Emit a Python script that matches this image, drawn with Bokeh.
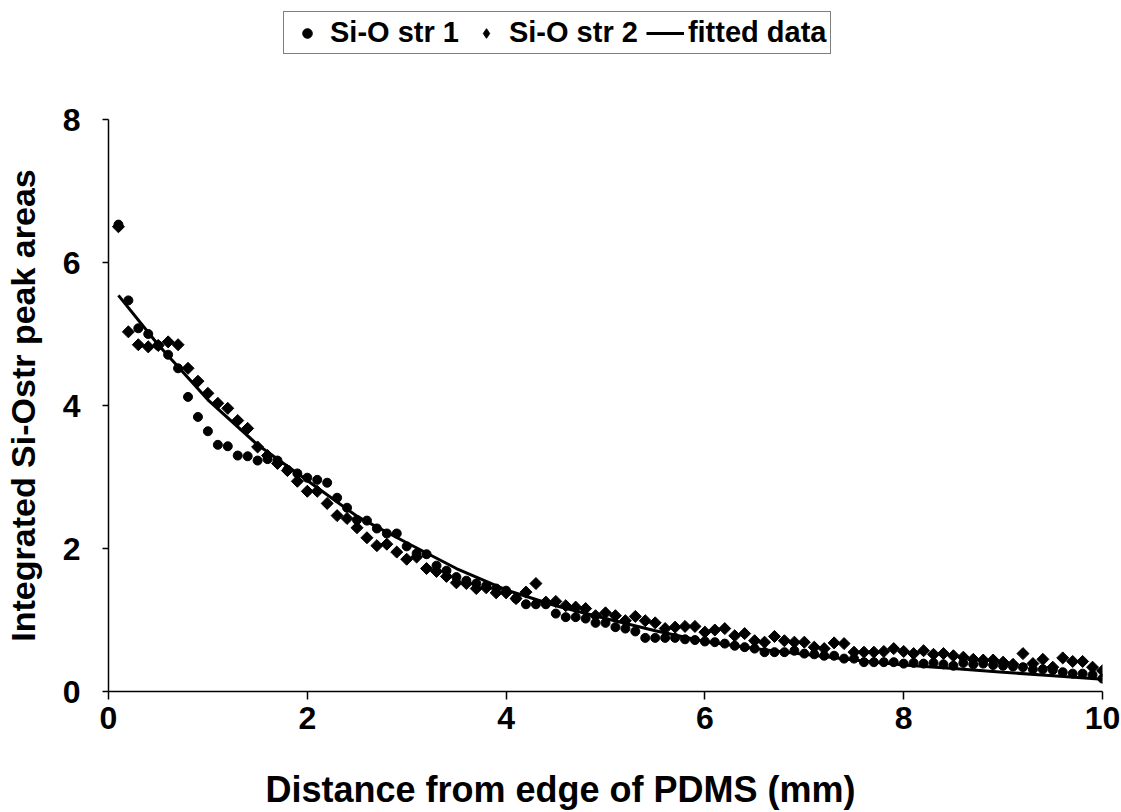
import numpy as np
from bokeh.plotting import figure
from bokeh.layouts import column
from bokeh.models import Legend, LegendItem, Range1d, FixedTicker, Label
from bokeh.embed import file_html
from bokeh.resources import INLINE

# distances (mm)
x_pts = [round(0.1 * i, 1) for i in range(1, 101)]

si_o_str1 = [6.53, 5.47, 5.08, 5.00, 4.84, 4.71, 4.52, 4.12, 3.84, 3.64,
             3.45, 3.43, 3.30, 3.29, 3.23, 3.25, 3.23, 3.10, 3.05, 2.99,
             2.96, 2.92, 2.71, 2.57, 2.40, 2.39, 2.28, 2.21, 2.21, 2.03,
             1.93, 1.92, 1.76, 1.69, 1.60, 1.55, 1.51, 1.48, 1.44, 1.41,
             1.30, 1.22, 1.22, 1.22, 1.09, 1.04, 1.04, 1.02, 0.96, 0.96,
             0.90, 0.88, 0.84, 0.75, 0.75, 0.75, 0.75, 0.73, 0.72, 0.70,
             0.69, 0.67, 0.64, 0.62, 0.60, 0.55, 0.55, 0.55, 0.57, 0.53,
             0.52, 0.50, 0.50, 0.46, 0.46, 0.41, 0.41, 0.41, 0.41, 0.39,
             0.40, 0.39, 0.40, 0.38, 0.36, 0.40, 0.38, 0.39, 0.37, 0.36,
             0.35, 0.34, 0.31, 0.31, 0.30, 0.27, 0.25, 0.25, 0.23, 0.18]

si_o_str2 = [6.50, 5.03, 4.85, 4.82, 4.84, 4.89, 4.85, 4.52, 4.34, 4.17,
             4.03, 3.96, 3.79, 3.68, 3.42, 3.30, 3.19, 3.09, 2.94, 2.80,
             2.80, 2.63, 2.46, 2.42, 2.29, 2.15, 2.04, 2.06, 1.95, 1.85,
             1.88, 1.72, 1.68, 1.61, 1.52, 1.51, 1.44, 1.45, 1.38, 1.38,
             1.30, 1.39, 1.51, 1.25, 1.26, 1.20, 1.18, 1.16, 1.06, 1.10,
             1.06, 0.99, 1.05, 0.99, 0.96, 0.88, 0.90, 0.91, 0.91, 0.83,
             0.86, 0.88, 0.78, 0.81, 0.71, 0.69, 0.77, 0.71, 0.69, 0.69,
             0.62, 0.60, 0.68, 0.67, 0.55, 0.55, 0.55, 0.56, 0.60, 0.56,
             0.53, 0.57, 0.52, 0.53, 0.50, 0.48, 0.45, 0.44, 0.44, 0.41,
             0.38, 0.53, 0.39, 0.45, 0.34, 0.47, 0.42, 0.42, 0.34, 0.29]

fit_x = [0.1, 0.5, 1.0, 1.5, 2.0, 2.5, 3.0, 3.5, 4.0, 4.5, 5.0,
         5.5, 6.0, 6.5, 7.0, 7.5, 8.0, 8.5, 9.0, 9.5, 10.0]
fit_y = [5.54, 4.85, 4.08, 3.45, 2.95, 2.45, 2.08, 1.72, 1.42, 1.20, 1.02,
         0.85, 0.70, 0.60, 0.52, 0.44, 0.37, 0.32, 0.27, 0.22, 0.17]

x_ticks = [0, 2, 4, 6, 8, 10]
y_ticks = [0, 2, 4, 6, 8]
series_labels = ["Si-O str 1", "Si-O str 2", "fitted data"]
x_title = "Distance from edge of PDMS (mm)"
y_title = "Integrated Si-Ostr peak areas"

FONT = "Liberation Sans"
W = 1121


def blank_fig(h):
    f = figure(width=W, height=h, output_backend="svg", toolbar_location=None,
               x_range=Range1d(0, W), y_range=Range1d(0, h),
               x_axis_type=None, y_axis_type=None,
               min_border=0, min_border_left=0, min_border_right=0,
               min_border_top=0, min_border_bottom=0)
    f.outline_line_color = None
    f.grid.visible = False
    return f


# ---- legend strip (top) ----
lf = blank_fig(100)
lr1 = lf.scatter([-100], [-100], marker="circle", size=9, color="black")
lr2 = lf.scatter([-100], [-100], marker="diamond", size=16, color="black")
lr3 = lf.line([-100, -90], [-100, -100], line_width=3, color="black")
legend = Legend(items=[LegendItem(label=series_labels[0], renderers=[lr1]),
                       LegendItem(label=series_labels[1], renderers=[lr2]),
                       LegendItem(label=series_labels[2], renderers=[lr3])],
                orientation="horizontal", location=(175, 46))
legend.label_text_font = FONT
legend.label_text_font_style = "bold"
legend.label_text_font_size = "29px"
legend.label_text_color = "black"
legend.border_line_color = "black"
legend.border_line_width = 1
legend.background_fill_alpha = 1
legend.glyph_width = 38
legend.glyph_height = 24
legend.label_standoff = 4
legend.spacing = 8
legend.padding = 4
legend.margin = 0
lf.add_layout(legend, "center")

# ---- main plot ----
p = figure(width=W, height=660, output_backend="svg", toolbar_location=None,
           x_range=Range1d(0, 10), y_range=Range1d(0, 8),
           min_border_left=104, min_border_right=19,
           min_border_top=19, min_border_bottom=69)
p.outline_line_color = None
p.grid.visible = False
p.background_fill_color = "white"
p.border_fill_color = "white"

p.scatter(x_pts, si_o_str1, marker="circle", size=9, color="black")
p.scatter(x_pts, si_o_str2, marker="square", angle=np.pi / 4, size=8.5, color="black")
p.line(fit_x, fit_y, line_width=3, color="black")

p.xaxis.ticker = FixedTicker(ticks=x_ticks)
p.yaxis.ticker = FixedTicker(ticks=y_ticks)
for ax in (p.xaxis[0], p.yaxis[0]):
    ax.axis_line_color = "black"
    ax.axis_line_width = 1.5
    ax.major_tick_line_color = "black"
    ax.major_tick_line_width = 1.5
    ax.major_tick_in = 0
    ax.minor_tick_line_color = None
    ax.major_label_text_font = FONT
    ax.major_label_text_font_style = "bold"
    ax.major_label_text_font_size = "32px"
    ax.major_label_text_color = "black"
    ax.axis_label_text_font = FONT
    ax.axis_label_text_font_style = "bold"
    ax.axis_label_text_font_size = "34px"
    ax.axis_label_text_color = "black"

p.xaxis.major_tick_out = 8
p.xaxis.major_label_standoff = 7

p.yaxis.major_tick_out = 6
p.yaxis.major_label_standoff = 22
p.yaxis.axis_label = y_title
p.yaxis.axis_label_standoff = 18

# ---- x-axis title strip (bottom) ----
bf = blank_fig(52)
bf.add_layout(Label(x=452, y=44, x_units="screen", y_units="screen",
                    text=x_title, text_font=FONT, text_font_style="bold",
                    text_font_size="36px", text_color="black",
                    text_align="center", text_baseline="top"))

layout = column(lf, p, bf, spacing=0)
open("out.html", "w").write(file_html(layout, INLINE))
